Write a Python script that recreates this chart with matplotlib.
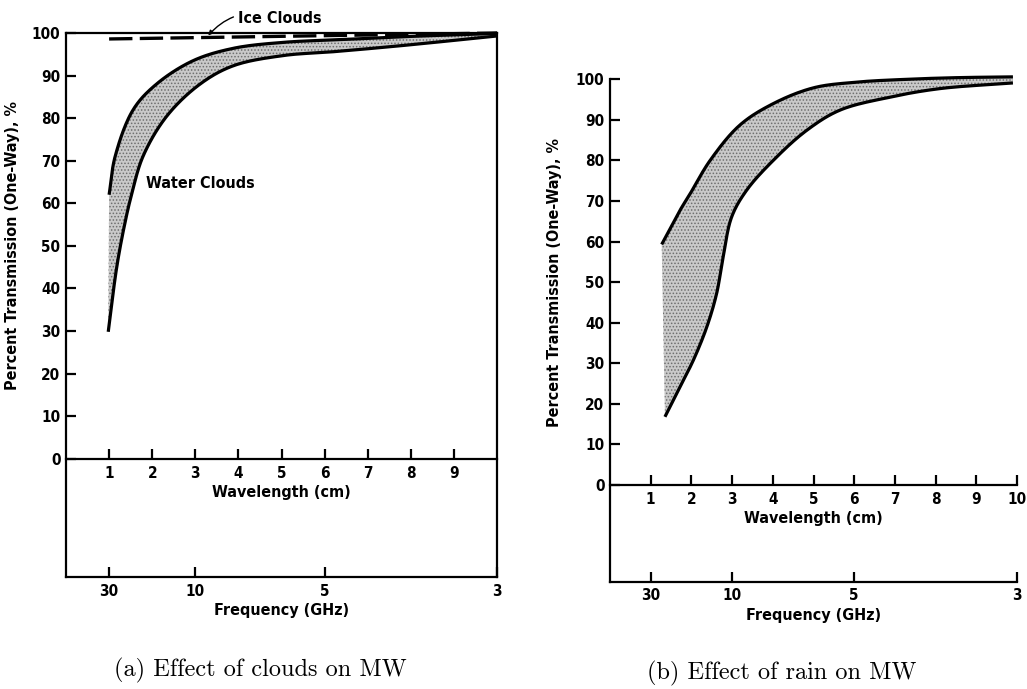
import numpy as np
import matplotlib
matplotlib.use("Agg")
import matplotlib.pyplot as plt

plt.rcParams['font.family'] = ['DejaVu Sans']
plt.rcParams['font.stretch'] = 'condensed'
plt.rcParams['font.weight'] = 'bold'
plt.rcParams['axes.labelweight'] = 'bold'

# ---------------- data ----------------
# (a) clouds
water_up_x = [1.0, 1.14, 1.56, 2.1, 2.95, 3.88, 5.04, 6.5, 8.0, 10.0]
water_up_y = [62.0, 71.0, 82.0, 88.0, 93.5, 96.4, 97.8, 98.5, 99.2, 99.9]
water_lo_x = [0.98, 1.18, 1.37, 1.52, 1.79, 2.34, 3.11, 3.88, 5.04, 6.2, 7.75, 10.0]
water_lo_y = [29.8, 45.2, 55.5, 62.0, 71.1, 80.5, 88.0, 92.3, 94.7, 95.6, 97.0, 99.3]
ice_x = [1.0, 10.0]
ice_y = [98.6, 100.0]

# (b) rain
rain_up_x = [1.27, 1.72, 1.97, 2.46, 3.19, 4.01, 5.0, 6.06, 7.29, 8.5, 9.9]
rain_up_y = [59.3, 67.7, 71.8, 80.0, 88.7, 94.0, 97.9, 99.3, 100.0, 100.4, 100.6]
rain_lo_x = [1.35, 1.72, 2.05, 2.38, 2.62, 2.78, 2.99, 3.36, 4.01, 4.83, 5.65, 6.88, 8.1, 9.9]
rain_lo_y = [16.8, 24.2, 30.8, 39.0, 47.2, 56.2, 66.1, 72.7, 80.0, 87.4, 92.4, 95.6, 97.7, 99.1]

y_ticks = [0, 10, 20, 30, 40, 50, 60, 70, 80, 90, 100]
wl_ticks_a = [1, 2, 3, 4, 5, 6, 7, 8, 9]
wl_ticks_b = [1, 2, 3, 4, 5, 6, 7, 8, 9, 10]
freq_ticks = [30, 10, 5, 3]  # GHz
captions = ["(a) Effect of clouds on MW", "(b) Effect of rain on MW"]

W, H = 1027, 689
fig = plt.figure(figsize=(W / 100, H / 100), dpi=100)

TICKFS = 11
LABFS = 11.5


def px_axes(x0, x1, ytop, ybot):
    return fig.add_axes([x0 / W, 1 - ybot / H, (x1 - x0) / W, (ybot - ytop) / H])


def smooth(xs, ys, ax_scale=(43.1, 4.25), nseg=24, alpha=0.5):
    """Centripetal Catmull-Rom through the read points (in pixel-like space)."""
    P = np.column_stack([np.asarray(xs, float) * ax_scale[0],
                         np.asarray(ys, float) * ax_scale[1]])
    P = np.vstack([2 * P[0] - P[1], P, 2 * P[-1] - P[-2]])
    out = []
    for i in range(1, len(P) - 2):
        p0, p1, p2, p3 = P[i - 1], P[i], P[i + 1], P[i + 2]
        t0 = 0.0
        t1 = t0 + np.linalg.norm(p1 - p0) ** alpha
        t2 = t1 + np.linalg.norm(p2 - p1) ** alpha
        t3 = t2 + np.linalg.norm(p3 - p2) ** alpha
        ts = np.linspace(t1, t2, nseg, endpoint=(i == len(P) - 3))
        for t in ts:
            A1 = (t1 - t) / (t1 - t0) * p0 + (t - t0) / (t1 - t0) * p1
            A2 = (t2 - t) / (t2 - t1) * p1 + (t - t1) / (t2 - t1) * p2
            A3 = (t3 - t) / (t3 - t2) * p2 + (t - t2) / (t3 - t2) * p3
            B1 = (t2 - t) / (t2 - t0) * A1 + (t - t0) / (t2 - t0) * A2
            B2 = (t3 - t) / (t3 - t1) * A2 + (t - t1) / (t3 - t1) * A3
            C = (t2 - t) / (t2 - t1) * B1 + (t - t1) / (t2 - t1) * B2
            out.append(C)
    out = np.array(out)
    return out[:, 0] / ax_scale[0], out[:, 1] / ax_scale[1]


def setup(ax, ybottom, wl_ticks, full_frame, ylab_x):
    ax.set_xlim(0, 10)
    ax.set_ylim(ybottom, 100)
    ax.spines['bottom'].set_position(('data', 0))
    for s in ax.spines.values():
        s.set_linewidth(1.6)
    if not full_frame:
        ax.spines['top'].set_visible(False)
        ax.spines['right'].set_visible(False)
    ax.set_yticks(y_ticks)
    ax.set_xticks(wl_ticks)
    ax.tick_params(axis='both', direction='in', length=7, width=1.6,
                   labelsize=TICKFS, pad=4)
    ax.tick_params(axis='x', pad=5)
    ax.set_ylabel("Percent Transmission (One-Way), %", fontsize=LABFS)
    ax.yaxis.set_label_coords(ylab_x, (50 - ybottom) / (100 - ybottom))
    ax.set_xlabel("Wavelength (cm)", fontsize=LABFS, labelpad=3)
    sec = ax.secondary_xaxis(0.0)
    sec.set_xticks([30.0 / f for f in freq_ticks])
    sec.set_xticklabels([str(f) for f in freq_ticks])
    sec.tick_params(direction='in', length=7, width=1.6, labelsize=TICKFS, pad=5)
    sec.spines['bottom'].set_linewidth(1.6)
    sec.set_xlabel("Frequency (GHz)", fontsize=LABFS, labelpad=3)


def band(ax, ux, uy, lx, ly, scale):
    sux, suy = smooth(ux, uy, scale)
    slx, sly = smooth(lx, ly, scale)
    px = np.concatenate([sux, slx[::-1]])
    py = np.concatenate([suy, sly[::-1]])
    ax.fill(px, py, facecolor='#c9c9c9', edgecolor='#6e6e6e', hatch='.....',
            linewidth=0, clip_on=False, zorder=1)
    ax.plot(sux, suy, color='black', lw=2.3, solid_capstyle='butt', clip_on=False, zorder=3)
    ax.plot(slx, sly, color='black', lw=2.3, solid_capstyle='butt', clip_on=False, zorder=3)


plt.rcParams['hatch.linewidth'] = 0.7

# ---- panel (a)
axa = px_axes(66, 497, 33, 577)
setup(axa, -27.8, wl_ticks_a, True, -0.107)
band(axa, water_up_x, water_up_y, water_lo_x, water_lo_y, (43.1, 4.25))
axa.plot(ice_x, ice_y, color='black', lw=2.4, dashes=(7, 2.2), clip_on=False, zorder=4)
axa.text(1.85, 64.7, "Water Clouds", fontsize=LABFS, va='center', ha='left')
axa.annotate("Ice Clouds", xy=(3.3, 99.4), xytext=(3.98, 103.4),
             fontsize=LABFS, va='center', ha='left',
             arrowprops=dict(arrowstyle='-|>', lw=1.0, color='black',
                             mutation_scale=7, shrinkA=1, shrinkB=0,
                             connectionstyle='arc3,rad=0.35'),
             annotation_clip=False)

# ---- panel (b)
axb = px_axes(610, 1017, 79.3, 581.5)
setup(axb, -23.8, wl_ticks_b, False, -0.118)
band(axb, rain_up_x, rain_up_y, rain_lo_x, rain_lo_y, (40.7, 4.06))

fig.text(260 / W, 1 - 670 / H, captions[0], family='cmr10', weight='normal',
         stretch='normal', fontsize=17.5, ha='center', va='center')
fig.text(782 / W, 1 - 673 / H, captions[1], family='cmr10', weight='normal',
         stretch='normal', fontsize=17.5, ha='center', va='center')

fig.savefig("out.png", dpi=100)
